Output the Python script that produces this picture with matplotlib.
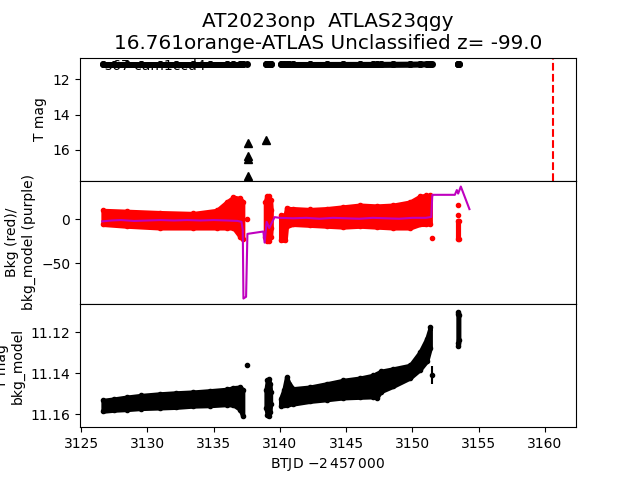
import numpy as np
import matplotlib
matplotlib.use("Agg")
import matplotlib.pyplot as plt

# light curve (T mag), drawn as envelopes of the dense point bands
tA = [3126.65, 3127.5, 3128.45, 3129.5, 3130.96, 3132.2, 3133.47, 3134.7, 3135.99, 3136.5, 3137.0, 3137.2]
brightA = [11.1532, 11.1525, 11.1516, 11.1508, 11.1500, 11.1495, 11.1491, 11.1485, 11.1478, 11.1470, 11.1467, 11.1480]
faintA = [11.1585, 11.1580, 11.1577, 11.1572, 11.1569, 11.1566, 11.1560, 11.1558, 11.1553, 11.1555, 11.1577, 11.1610]

tB = [3138.95, 3139.05, 3139.15, 3139.25, 3139.3]
brightB = [11.1480, 11.1435, 11.1428, 11.1450, 11.1490]
faintB = [11.1570, 11.1605, 11.1610, 11.1590, 11.1550]

tC = [3140.05, 3140.3, 3140.5, 3140.7, 3141.0, 3142.27, 3143.53, 3144.79, 3146.05, 3147.0,
      3147.3, 3147.6, 3148.56, 3149.82, 3150.57, 3151.08, 3151.35]
brightC = [11.1524, 11.1480, 11.1418, 11.1450, 11.1475, 11.1467, 11.1451, 11.1434, 11.1423, 11.1410,
           11.1402, 11.1390, 11.1378, 11.1361, 11.1296, 11.1231, 11.1174]
faintC = [11.1560, 11.1555, 11.1553, 11.1550, 11.1550, 11.1537, 11.1529, 11.1520, 11.1517, 11.1515,
          11.1520, 11.1490, 11.1463, 11.1423, 11.1382, 11.1341, 11.1276]

tD = [3153.43, 3153.47, 3153.5]
brightD = [11.1110, 11.1100, 11.1115]
faintD = [11.1250, 11.1268, 11.1240]

single_t = [3137.55]
single_mag = [11.136]
err_t = [3151.5]
err_mag = [11.1408]
err_size = [0.0045]

# upper limits (triangles)
lim_t = [3137.57, 3137.57, 3137.57, 3137.57, 3138.93]
lim_mag = [15.59, 16.38, 16.53, 17.47, 15.43]
disc_t = 3160.6

# background (red) envelopes
rtA = [3126.65, 3128.45, 3130.96, 3133.47, 3135.24, 3135.99, 3136.5, 3137.0, 3137.2]
rhiA = [10, 9, 7.5, 6.5, 10, 19.5, 25, 23.5, 20]
rloA = [-6, -8, -10, -10, -10, -10, -10, -20, -23]

rtB = [3138.9, 3139.0, 3139.15, 3139.3, 3139.35]
rhiB = [20, 26, 26, 22, 10]
rloB = [-20, -25, -25, -20, -10]

rtC = [3140.05, 3140.4, 3140.5, 3140.7, 3141.0, 3142.27, 3143.53, 3144.79, 3146.05, 3147.3,
       3148.56, 3149.82, 3150.57, 3151.0, 3151.35]
rhiC = [4.5, 5, 13, 12, 12, 11, 12, 14, 16, 15, 16, 19.5, 26, 27, 27]
rloC = [-24, -24, -8, -7, -6, -7, -8, -9, -8, -9, -10, -10, -6, -6, -5]

rtD = [3153.44, 3153.5]
rhiD = [-2, -2]
rloD = [-23, -23]

red_t = [3137.55, 3151.5, 3153.45, 3153.45]
red_v = [0, -21.6, 16, 5]

# background model (purple)
pt = [3126.6, 3127.3, 3128.0, 3129.0, 3130.0, 3131.0, 3132.0, 3133.0, 3134.0, 3135.0, 3136.0, 3136.8,
      3137.1, 3137.2, 3137.25, 3137.45, 3137.55, 3138.75, 3138.85, 3139.0, 3139.2, 3139.6, 3140.0,
      3141.0, 3142.0, 3143.0, 3144.0, 3145.0, 3146.0, 3147.0, 3148.0, 3149.0, 3150.0, 3151.0,
      3151.42, 3151.5, 3153.2, 3153.35, 3153.45, 3153.65, 3154.3]
pv = [-2.5, -1.5, -1.0, -2.0, -1.5, -1.0, -1.5, -1.0, -1.5, -1.0, -1.5, -2.0,
      -3.0, -12, -90, -88, -16.7, -14, -26.6, -3, -10, 2.3, 1.5,
      1.0, 1.5, 0.5, 1.5, 1.0, 0.5, 1.5, 1.0, 0.5, 1.5, 1.5,
      2.5, 27.6, 27.6, 33, 29, 37, 11.4]


def band(ax, t, lo, hi, c, lw, ms):
    ax.fill_between(t, lo, hi, color=c, lw=lw)
    ax.plot(t, lo, '.', color=c, ms=ms)
    ax.plot(t, hi, '.', color=c, ms=ms)


fig, (ax1, ax2, ax3) = plt.subplots(3, 1, sharex=True, figsize=(6.4, 4.8))
plt.subplots_adjust(hspace=0)

# top: light curve + limits
for t, b, f in [(tA, brightA, faintA), (tB, brightB, faintB), (tC, brightC, faintC), (tD, brightD, faintD)]:
    band(ax1, t, b, f, 'k', 4, 8)
ax1.plot(single_t, single_mag, 'k.', ms=8)
ax1.plot(err_t, err_mag, 'k.', ms=8)
ax1.plot(lim_t, lim_mag, 'k^')
ax1.axvline(disc_t, color='r', ls='--')
ax1.text(0.05, 0.9, 's67 cam1ccd4', transform=ax1.transAxes)
ax1.set_ylim(17.76, 10.77)
ax1.set_ylabel('T mag')
ax1.set_title('AT2023onp  ATLAS23qgy\n16.761orange-ATLAS Unclassified z= -99.0', fontsize='x-large')

# middle: background
for t, lo, hi in [(rtA, rloA, rhiA), (rtB, rloB, rhiB), (rtC, rloC, rhiC), (rtD, rloD, rhiD)]:
    band(ax2, t, lo, hi, 'r', 3, 6)
ax2.plot(red_t, red_v, 'r.')
ax2.plot(pt, pv, 'm-', lw=1.5)
ax2.set_ylim(-96.2, 43.5)
ax2.set_ylabel('Bkg (red)/\nbkg_model (purple)')

# bottom: light curve zoom
for t, b, f in [(tA, brightA, faintA), (tB, brightB, faintB), (tC, brightC, faintC), (tD, brightD, faintD)]:
    band(ax3, t, b, f, 'k', 3, 6)
ax3.plot(single_t, single_mag, 'k.')
ax3.errorbar(err_t, err_mag, yerr=err_size, fmt='k.')
ax3.set_ylim(11.1663, 11.1062)
ax3.set_ylabel('T mag\nbkg_model')
ax3.set_xlim(3124.92, 3162.34)
ax3.set_xlabel(r'BTJD $-2\,457\,000$')

plt.savefig('out.png', dpi=100)
